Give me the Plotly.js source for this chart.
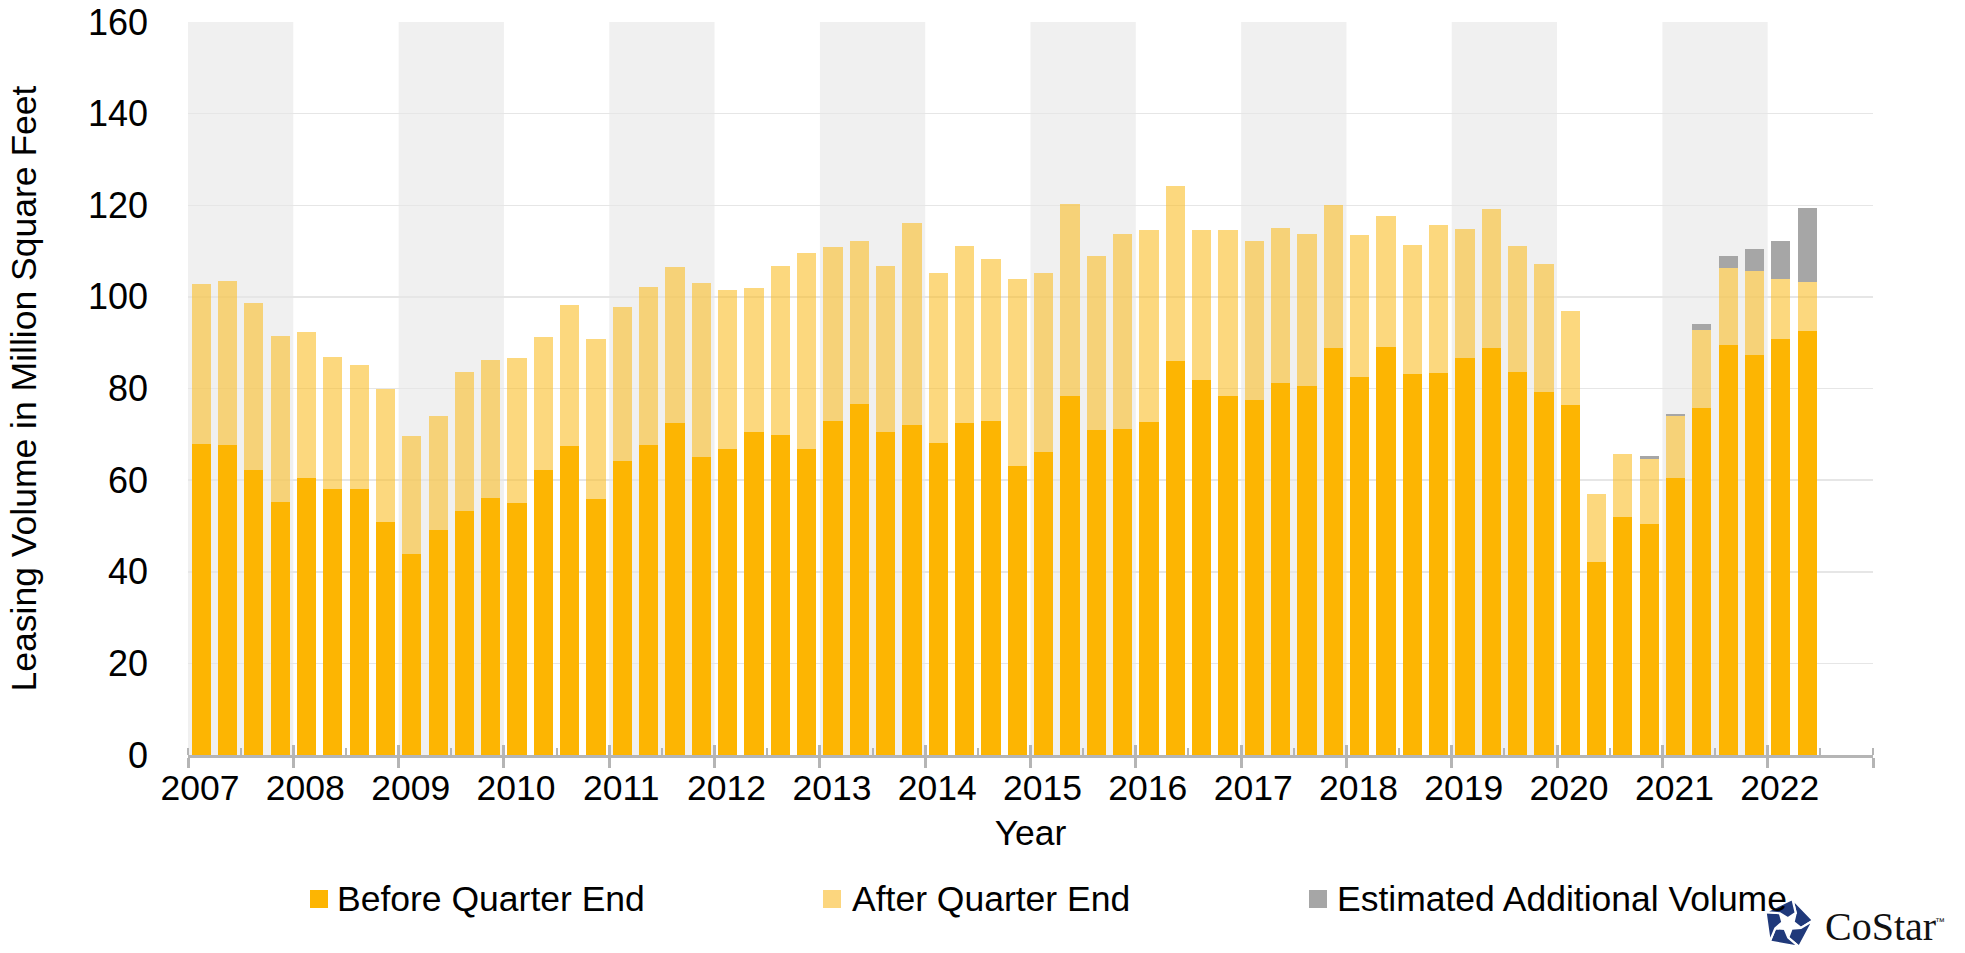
<!DOCTYPE html>
<html>
<head>
<meta charset="utf-8">
<script src="https://cdn.plot.ly/plotly-3.0.1.min.js"></script>
<style>
  html, body { margin: 0; padding: 0; background: #fff; }
  #plot { width: 1965px; height: 953px; }
</style>
</head>
<body>
<div id="plot"></div>
<script>
// quarterly leasing volume, million sq ft, 2007 Q1 .. 2022 Q2
const years = [2007, 2008, 2009, 2010, 2011, 2012, 2013, 2014, 2015, 2016, 2017, 2018, 2019, 2020, 2021, 2022];
const quarterNames = ['Q1', 'Q2', 'Q3', 'Q4'];

const beforeQuarterEnd = [
  67.9, 67.6, 62.3, 55.2,
  60.5, 58.0, 58.0, 50.8,
  43.9, 49.2, 53.2, 56.1,
  55.0, 62.3, 67.4, 55.9,
  64.2, 67.7, 72.5, 65.1,
  66.7, 70.4, 69.9, 66.7,
  72.8, 76.7, 70.6, 72.1,
  68.2, 72.4, 72.9, 63.0,
  66.1, 78.3, 71.0, 71.2,
  72.6, 85.9, 81.8, 78.4,
  77.6, 81.3, 80.6, 88.8,
  82.6, 89.1, 83.1, 83.4,
  86.6, 88.9, 83.5, 79.2,
  76.4, 42.2, 51.9, 50.5,
  60.4, 75.8, 89.4, 87.4,
  90.9, 92.6
];

const afterQuarterEnd = [
  34.9, 35.9, 36.3, 36.2,
  31.9, 28.9, 27.1, 29.0,
  25.8, 24.9, 30.4, 30.2,
  31.6, 29.0, 30.8, 34.9,
  33.5, 34.5, 34.0, 38.0,
  34.7, 31.5, 36.8, 42.9,
  38.1, 35.5, 36.1, 44.1,
  37.0, 38.8, 35.4, 40.9,
  39.2, 41.9, 37.9, 42.5,
  42.0, 38.3, 32.8, 36.2,
  34.6, 33.8, 33.1, 31.2,
  31.0, 28.5, 28.2, 32.3,
  28.2, 30.2, 27.7, 28.0,
  20.5, 14.7, 13.8, 14.2,
  13.5, 16.9, 16.9, 18.2,
  12.9, 10.7
];

const estimatedAdditional = [
  0, 0, 0, 0,  0, 0, 0, 0,  0, 0, 0, 0,  0, 0, 0, 0,
  0, 0, 0, 0,  0, 0, 0, 0,  0, 0, 0, 0,  0, 0, 0, 0,
  0, 0, 0, 0,  0, 0, 0, 0,  0, 0, 0, 0,  0, 0, 0, 0,
  0, 0, 0, 0,
  0, 0, 0, 0.5,
  0.6, 1.4, 2.7, 4.9,
  8.3, 16.2
];

const seriesNames = ['Before Quarter End', 'After Quarter End', 'Estimated Additional Volume'];
const seriesColors = ['#FDB502', 'rgba(250,190,40,0.6)', '#A6A6A6'];

// bar centres on a continuous year axis
const xPos = beforeQuarterEnd.map((v, i) => years[0] + (i + 0.5) / 4);
const labels = beforeQuarterEnd.map((v, i) => years[Math.floor(i / 4)] + ' ' + quarterNames[i % 4]);

const font = 'Liberation Sans, Arial, sans-serif';
const fs = 35.5;
const axisGray = '#B5B5B5';

// plot box in pixels, used to place the hand-drawn legend and logo
const W = 1965, H = 953;
const M = {l: 188, r: 92, t: 22, b: 198};
const px = x => (x - M.l) / (W - M.l - M.r);
const py = y => (H - M.b - y) / (H - M.t - M.b);

const traces = [beforeQuarterEnd, afterQuarterEnd, estimatedAdditional].map((vals, i) => ({
  x: xPos, y: vals, hovertext: labels, textposition: 'none',
  name: seriesNames[i], type: 'bar',
  marker: {color: seriesColors[i], line: {width: 0}}
}));
// carries the inner half of the crossing year ticks
traces.push({x: [], y: [], xaxis: 'x2', type: 'scatter', hoverinfo: 'skip'});

// alternating year shading
const shapes = years.filter((y, i) => i % 2 === 0).map(y => ({
  type: 'rect', xref: 'x', yref: 'paper',
  x0: y, x1: y + 1, y0: 0, y1: 1,
  fillcolor: '#F0F0F0', line: {width: 0}, layer: 'below'
}));

const allTicks = years.concat([years[years.length - 1] + 1]);
const tickText = years.map(String).concat(['']);

// legend: swatch + label, laid out like the original
const legendSwatchX = [310, 823, 1309];
const legendTextX = [335, 850, 1335];
const legendY = 899;
const annotations = [];
seriesNames.forEach((name, i) => {
  shapes.push({
    type: 'rect', xref: 'paper', yref: 'paper',
    x0: px(legendSwatchX[i]), x1: px(legendSwatchX[i] + 18),
    y0: py(legendY + 9), y1: py(legendY - 9),
    fillcolor: i === 1 ? '#FCD67E' : seriesColors[i], line: {width: 0}
  });
  annotations.push({
    text: name, xref: 'paper', yref: 'paper',
    x: px(legendTextX[i]), y: py(legendY), xanchor: 'left', yanchor: 'middle',
    showarrow: false, font: {family: font, size: fs, color: '#000'}
  });
});

function pinwheel() {
  const cx = 50, cy = 50, R = 47, rs = 25, rc = 11, rot = -80;
  const pt = (r, a) => {
    const t = a * Math.PI / 180;
    return (cx + r * Math.cos(t)).toFixed(2) + ',' + (cy + r * Math.sin(t)).toFixed(2);
  };
  let polys = '';
  for (let k = 0; k < 5; k++) {
    const a = rot + 72 * k;
    const pts = [pt(R, a), pt(R, a + 72), pt(rs, a + 72 + 25), pt(rc, a + 25 + 36), pt(rs, a + 25)];
    polys += '<polygon points="' + pts.join(' ') + '" fill="#20397A" stroke="#ffffff" stroke-width="4" stroke-linejoin="miter"/>';
  }
  const svg = '<svg xmlns="http://www.w3.org/2000/svg" width="100" height="100" viewBox="0 0 100 100">' + polys + '</svg>';
  return 'data:image/svg+xml;charset=utf-8,' + encodeURIComponent(svg);
}

annotations.push(
  {text: 'CoStar', xref: 'paper', yref: 'paper', x: px(1823), y: py(926),
   xanchor: 'left', yanchor: 'middle', showarrow: false,
   font: {family: 'Liberation Serif, Times New Roman, serif', size: 40, color: '#111'}},
  {text: '™', xref: 'paper', yref: 'paper', x: px(1933), y: py(922),
   xanchor: 'left', yanchor: 'middle', showarrow: false,
   font: {family: font, size: 10, color: '#111'}}
);

const layout = {
  width: W, height: H,
  margin: M,
  paper_bgcolor: '#fff', plot_bgcolor: 'rgba(0,0,0,0)',
  font: {family: font, size: fs, color: '#000'},
  barmode: 'stack', bargap: 0.27,
  showlegend: false,
  xaxis: {
    range: [years[0], years[years.length - 1] + 1],
    tickmode: 'array', tickvals: allTicks, ticktext: tickText,
    ticks: 'outside', ticklen: 10, tickwidth: 3, tickcolor: axisGray,
    ticklabelshift: 12, ticklabelstandoff: -11,
    showline: true, linecolor: axisGray, linewidth: 3,
    showgrid: false, zeroline: false,
    tickfont: {family: font, size: fs, color: '#000'},
    title: {text: 'Year', font: {family: font, size: fs, color: '#000'}, standoff: 14},
    minor: {tickmode: 'linear', tick0: years[0], dtick: 0.5, ticks: 'inside', ticklen: 7, tickwidth: 2, tickcolor: axisGray, showgrid: false}
  },
  xaxis2: {
    overlaying: 'x', anchor: 'y', side: 'bottom',
    range: [years[0], years[years.length - 1] + 1],
    tickmode: 'array', tickvals: allTicks, showticklabels: false,
    ticks: 'inside', ticklen: 10, tickwidth: 3, tickcolor: axisGray,
    showline: false, showgrid: false, zeroline: false
  },
  yaxis: {
    range: [0, 160], tick0: 0, dtick: 20,
    showgrid: true, gridcolor: '#E6E6E6', gridwidth: 1.5,
    zeroline: false, showline: false, ticks: '',
    ticklabelstandoff: 39,
    tickfont: {family: font, size: 36, color: '#000'},
    title: {text: 'Leasing Volume in Million Square Feet', font: {family: font, size: fs, color: '#000'}, standoff: 40}
  },
  shapes: shapes,
  annotations: annotations,
  images: [{
    source: pinwheel(), xref: 'paper', yref: 'paper',
    x: px(1761), y: py(897), sizex: 54 / (W - M.l - M.r), sizey: 54 / (H - M.t - M.b),
    xanchor: 'left', yanchor: 'top', sizing: 'contain', layer: 'above'
  }]
};

Plotly.newPlot('plot', traces, layout, {displayModeBar: false, staticPlot: true});
</script>
</body>
</html>
